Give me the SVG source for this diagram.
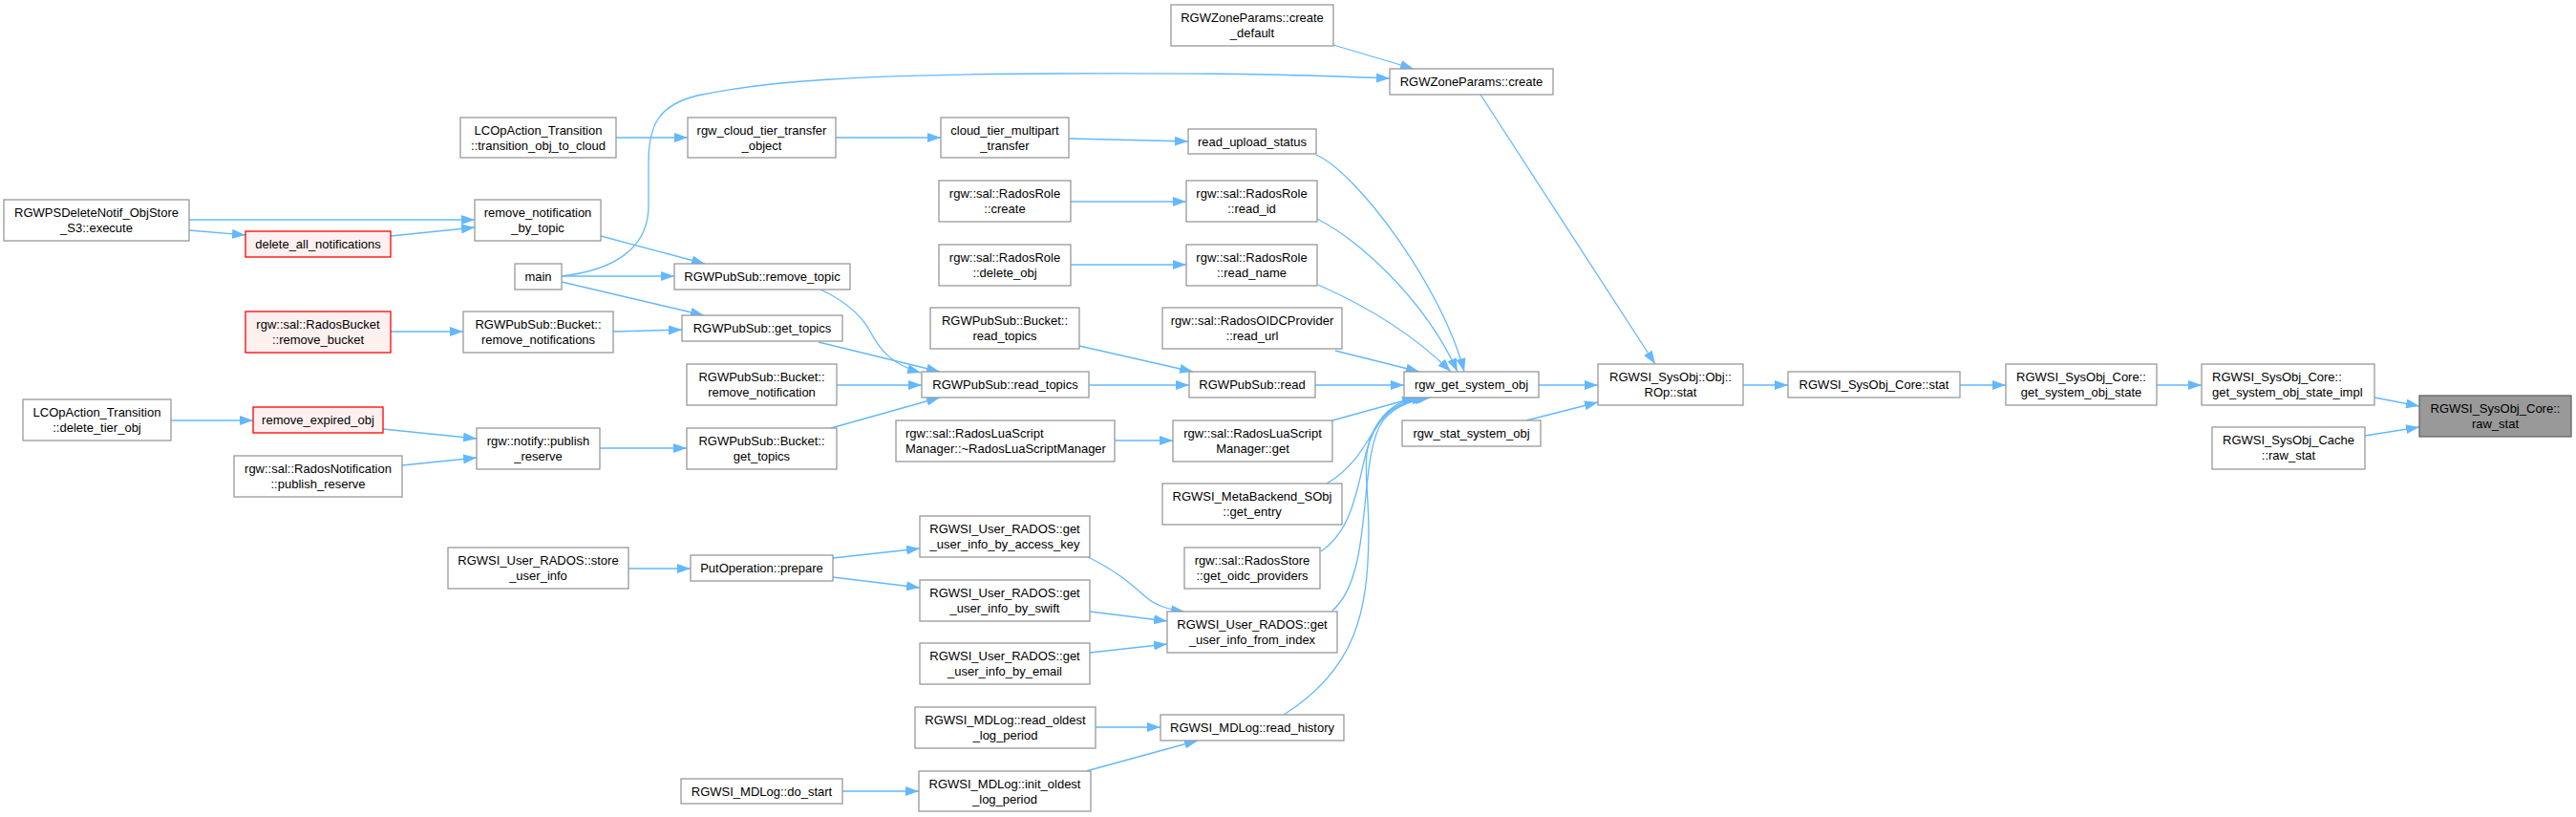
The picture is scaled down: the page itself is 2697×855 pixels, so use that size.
<svg xmlns="http://www.w3.org/2000/svg" width="2697" height="855" viewBox="0 0 2697 855">
<defs>
<marker id="ah" markerUnits="userSpaceOnUse" markerWidth="15" markerHeight="11" refX="14" refY="5" orient="auto">
<path d="M0,0 L14,5 L0,10 z" fill="#63b8ff"/>
</marker>
<style>
.n rect{fill:#ffffff;stroke:#999999;stroke-width:1.3}
.r rect{fill:#fff0f0;stroke:#ff0000;stroke-width:1.3}
.root rect{fill:#999999;stroke:#666666;stroke-width:1.3}
text{font-family:"Liberation Sans",Arial,sans-serif;font-size:13px;fill:#000000;text-anchor:middle}
text.l{text-anchor:start}
#edges path{fill:none;stroke:#63b8ff;stroke-width:1.3;marker-end:url(#ah)}
</style>
</defs>
<rect width="2697" height="855" fill="#ffffff"/>
<g id="edges">
<path d="M1396,47 L1480,72"/>
<path d="M588,289 C640,283 679,262 679,215 L679,170 C679,130 690,110 730,100 C800,85 900,78 1100,77 C1300,76 1380,79 1455,82"/>
<path d="M645,144 L720,144"/>
<path d="M875,144 L985,144"/>
<path d="M1119,145 L1244,148"/>
<path d="M1121,211 L1242,211"/>
<path d="M1121,277 L1242,277"/>
<path d="M198,230 L497,230"/>
<path d="M198,241 L257,246"/>
<path d="M409,247 L497,238"/>
<path d="M629,247 L738,276"/>
<path d="M588,289 L706,289"/>
<path d="M588,295 L737,330"/>
<path d="M409,347 L485,347"/>
<path d="M642,347 L714,345"/>
<path d="M859,303 C885,315 900,328 910,345 C922,368 935,382 964,390"/>
<path d="M857,358 L984,389"/>
<path d="M876,403 L965,403"/>
<path d="M870,448 L984,416"/>
<path d="M1140,403 L1245,403"/>
<path d="M1130,362 L1249,389"/>
<path d="M1377,403 L1470,403"/>
<path d="M1378,162 C1420,180 1510,300 1533,389"/>
<path d="M1379,229 C1420,250 1490,310 1526,389"/>
<path d="M1380,298 C1430,320 1480,350 1519,389"/>
<path d="M1398,367 L1486,389"/>
<path d="M1611,403 L1673,403"/>
<path d="M1550,99 L1733,381"/>
<path d="M1598,440 L1673,421"/>
<path d="M1825,403 L1872,403"/>
<path d="M2052,403 L2100,403"/>
<path d="M2258,403 L2305,403"/>
<path d="M2486,416 L2533,425"/>
<path d="M2476,456 L2533,447"/>
<path d="M179,440 L265,440"/>
<path d="M401,449 L499,459"/>
<path d="M421,487 L499,479"/>
<path d="M628,469 L719,469"/>
<path d="M1167,461 L1228,461"/>
<path d="M1395,440 L1482,416"/>
<path d="M1389,506 C1420,488 1432,460 1445,440 C1455,425 1470,418 1488,416"/>
<path d="M1383,577 C1430,545 1420,470 1445,440 C1458,425 1475,419 1492,416"/>
<path d="M1395,639 C1440,600 1420,480 1448,440 C1460,425 1478,419 1495,416"/>
<path d="M1344,748 C1420,700 1432,640 1433,560 C1433,490 1420,470 1450,435 C1462,422 1480,418 1498,416"/>
<path d="M658,595 L723,595"/>
<path d="M872,584 L963,574"/>
<path d="M872,604 L963,615"/>
<path d="M1139,583 C1170,598 1185,612 1200,625 C1212,635 1225,638 1240,640"/>
<path d="M1141,640 L1222,650"/>
<path d="M1141,683 L1222,674"/>
<path d="M1147,761 L1215,761"/>
<path d="M1137,807 L1254,775"/>
<path d="M882,828 L962,828"/>
</g>
<g id="n1" class="n"><rect x="1226" y="5" width="170" height="43"/><text x="1311" y="23">RGWZoneParams::create</text><text x="1311" y="39">_default</text></g>
<g id="n2" class="n"><rect x="1455" y="72" width="171" height="27"/><text x="1540.5" y="90">RGWZoneParams::create</text></g>
<g id="n3" class="n"><rect x="482" y="123" width="163" height="42"/><text x="563.5" y="141">LCOpAction_Transition</text><text x="563.5" y="157">::transition_obj_to_cloud</text></g>
<g id="n4" class="n"><rect x="720" y="123" width="155" height="42"/><text x="797.5" y="141">rgw_cloud_tier_transfer</text><text x="797.5" y="157">_object</text></g>
<g id="n5" class="n"><rect x="985" y="123" width="134" height="42"/><text x="1052" y="141">cloud_tier_multipart</text><text x="1052" y="157">_transfer</text></g>
<g id="n6" class="n"><rect x="1244" y="135" width="134" height="26"/><text x="1311" y="153">read_upload_status</text></g>
<g id="n7" class="n"><rect x="983" y="189" width="138" height="43"/><text x="1052" y="207">rgw::sal::RadosRole</text><text x="1052" y="223">::create</text></g>
<g id="n8" class="n"><rect x="1242" y="189" width="137" height="43"/><text x="1310.5" y="207">rgw::sal::RadosRole</text><text x="1310.5" y="223">::read_id</text></g>
<g id="n9" class="n"><rect x="983" y="256" width="138" height="43"/><text x="1052" y="274">rgw::sal::RadosRole</text><text x="1052" y="290">::delete_obj</text></g>
<g id="n10" class="n"><rect x="1242" y="256" width="137" height="43"/><text x="1310.5" y="274">rgw::sal::RadosRole</text><text x="1310.5" y="290">::read_name</text></g>
<g id="n11" class="n"><rect x="4" y="209" width="194" height="43"/><text x="101" y="227">RGWPSDeleteNotif_ObjStore</text><text x="101" y="243">_S3::execute</text></g>
<g id="n12" class="r"><rect x="257" y="242" width="152" height="27"/><text x="333" y="260">delete_all_notifications</text></g>
<g id="n13" class="n"><rect x="497" y="209" width="132" height="43"/><text x="563" y="227">remove_notification</text><text x="563" y="243">_by_topic</text></g>
<g id="n14" class="n"><rect x="539" y="276" width="49" height="27"/><text x="563.5" y="294">main</text></g>
<g id="n15" class="n"><rect x="706" y="276" width="184" height="27"/><text x="798" y="294">RGWPubSub::remove_topic</text></g>
<g id="n16" class="r"><rect x="257" y="326" width="152" height="43"/><text x="333" y="344">rgw::sal::RadosBucket</text><text x="333" y="360">::remove_bucket</text></g>
<g id="n17" class="n"><rect x="485" y="326" width="157" height="43"/><text x="563.5" y="344">RGWPubSub::Bucket::</text><text x="563.5" y="360">remove_notifications</text></g>
<g id="n18" class="n"><rect x="714" y="330" width="168" height="27"/><text x="798" y="348">RGWPubSub::get_topics</text></g>
<g id="n19" class="n"><rect x="974" y="322" width="156" height="43"/><text x="1052" y="340">RGWPubSub::Bucket::</text><text x="1052" y="356">read_topics</text></g>
<g id="n20" class="n"><rect x="1217" y="322" width="188" height="43"/><text x="1311" y="340">rgw::sal::RadosOIDCProvider</text><text x="1311" y="356">::read_url</text></g>
<g id="n21" class="n"><rect x="719" y="381" width="157" height="43"/><text x="797.5" y="399">RGWPubSub::Bucket::</text><text x="797.5" y="415">remove_notification</text></g>
<g id="n22" class="n"><rect x="965" y="389" width="175" height="27"/><text x="1052.5" y="407">RGWPubSub::read_topics</text></g>
<g id="n23" class="n"><rect x="1245" y="389" width="132" height="27"/><text x="1311" y="407">RGWPubSub::read</text></g>
<g id="n24" class="n"><rect x="1470" y="389" width="141" height="27"/><text x="1540.5" y="407">rgw_get_system_obj</text></g>
<g id="n25" class="n"><rect x="1673" y="381" width="152" height="43"/><text x="1749" y="399">RGWSI_SysObj::Obj::</text><text x="1749" y="415">ROp::stat</text></g>
<g id="n26" class="n"><rect x="1872" y="389" width="180" height="27"/><text x="1962" y="407">RGWSI_SysObj_Core::stat</text></g>
<g id="n27" class="n"><rect x="2100" y="381" width="158" height="43"/><text x="2179" y="399">RGWSI_SysObj_Core::</text><text x="2179" y="415">get_system_obj_state</text></g>
<g id="n28" class="n"><rect x="2305" y="381" width="181" height="43"/><text class="l" x="2316" y="399">RGWSI_SysObj_Core::</text><text class="l" x="2316" y="415">get_system_obj_state_impl</text></g>
<g id="n29" class="root"><rect x="2533" y="414" width="159" height="43"/><text x="2612.5" y="432">RGWSI_SysObj_Core::</text><text x="2612.5" y="448">raw_stat</text></g>
<g id="n30" class="n"><rect x="2316" y="447" width="160" height="44"/><text x="2396" y="465">RGWSI_SysObj_Cache</text><text x="2396" y="481">::raw_stat</text></g>
<g id="n31" class="n"><rect x="24" y="418" width="155" height="43"/><text x="101.5" y="436">LCOpAction_Transition</text><text x="101.5" y="452">::delete_tier_obj</text></g>
<g id="n32" class="r"><rect x="265" y="426" width="136" height="27"/><text x="333" y="444">remove_expired_obj</text></g>
<g id="n33" class="n"><rect x="245" y="477" width="176" height="43"/><text x="333" y="495">rgw::sal::RadosNotification</text><text x="333" y="511">::publish_reserve</text></g>
<g id="n34" class="n"><rect x="499" y="448" width="129" height="43"/><text x="563.5" y="466">rgw::notify::publish</text><text x="563.5" y="482">_reserve</text></g>
<g id="n35" class="n"><rect x="719" y="448" width="157" height="43"/><text x="797.5" y="466">RGWPubSub::Bucket::</text><text x="797.5" y="482">get_topics</text></g>
<g id="n36" class="n"><rect x="938" y="440" width="229" height="43"/><text class="l" x="948" y="458">rgw::sal::RadosLuaScript</text><text class="l" x="948" y="474">Manager::~RadosLuaScriptManager</text></g>
<g id="n37" class="n"><rect x="1228" y="440" width="167" height="43"/><text x="1311.5" y="458">rgw::sal::RadosLuaScript</text><text x="1311.5" y="474">Manager::get</text></g>
<g id="n38" class="n"><rect x="1468" y="440" width="145" height="27"/><text x="1540.5" y="458">rgw_stat_system_obj</text></g>
<g id="n39" class="n"><rect x="1217" y="506" width="188" height="43"/><text x="1311" y="524">RGWSI_MetaBackend_SObj</text><text x="1311" y="540">::get_entry</text></g>
<g id="n40" class="n"><rect x="963" y="540" width="178" height="43"/><text x="1052" y="558">RGWSI_User_RADOS::get</text><text x="1052" y="574">_user_info_by_access_key</text></g>
<g id="n41" class="n"><rect x="723" y="581" width="149" height="27"/><text x="797.5" y="599">PutOperation::prepare</text></g>
<g id="n42" class="n"><rect x="1240" y="573" width="142" height="43"/><text x="1311" y="591">rgw::sal::RadosStore</text><text x="1311" y="607">::get_oidc_providers</text></g>
<g id="n43" class="n"><rect x="469" y="573" width="189" height="43"/><text x="563.5" y="591">RGWSI_User_RADOS::store</text><text x="563.5" y="607">_user_info</text></g>
<g id="n44" class="n"><rect x="963" y="607" width="178" height="43"/><text x="1052" y="625">RGWSI_User_RADOS::get</text><text x="1052" y="641">_user_info_by_swift</text></g>
<g id="n45" class="n"><rect x="1222" y="640" width="178" height="43"/><text x="1311" y="658">RGWSI_User_RADOS::get</text><text x="1311" y="674">_user_info_from_index</text></g>
<g id="n46" class="n"><rect x="963" y="673" width="178" height="43"/><text x="1052" y="691">RGWSI_User_RADOS::get</text><text x="1052" y="707">_user_info_by_email</text></g>
<g id="n47" class="n"><rect x="958" y="740" width="189" height="43"/><text x="1052.5" y="758">RGWSI_MDLog::read_oldest</text><text x="1052.5" y="774">_log_period</text></g>
<g id="n48" class="n"><rect x="1215" y="748" width="192" height="27"/><text x="1311" y="766">RGWSI_MDLog::read_history</text></g>
<g id="n49" class="n"><rect x="713" y="815" width="169" height="26"/><text x="797.5" y="833">RGWSI_MDLog::do_start</text></g>
<g id="n50" class="n"><rect x="962" y="807" width="180" height="42"/><text x="1052" y="825">RGWSI_MDLog::init_oldest</text><text x="1052" y="841">_log_period</text></g>
</svg>
